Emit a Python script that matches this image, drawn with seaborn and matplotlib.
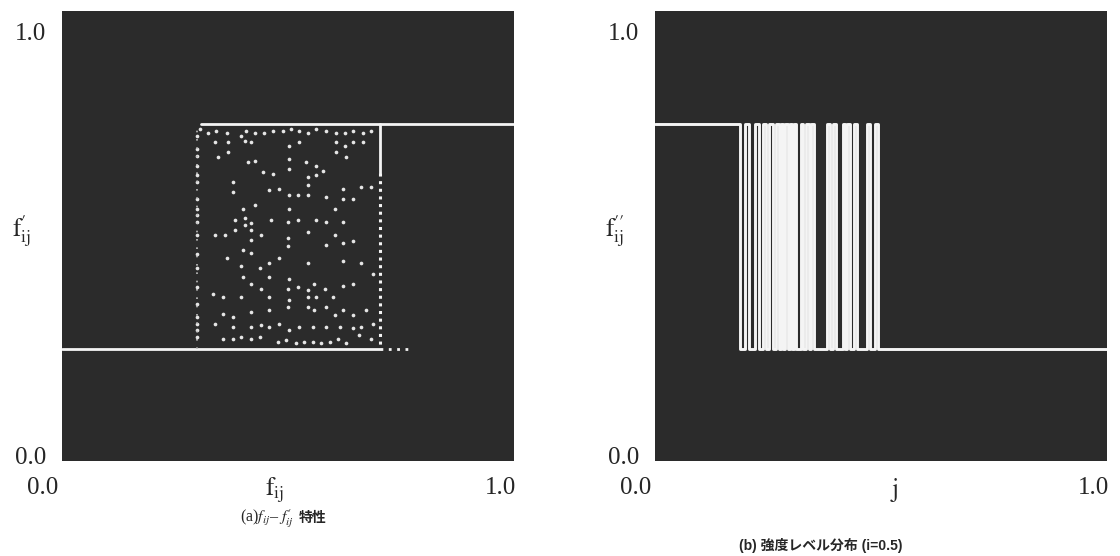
import numpy as np
import pandas as pd
import matplotlib
matplotlib.use("Agg")
import matplotlib.pyplot as plt
import seaborn as sns

sns.set_style("white")
plt.rcParams["font.family"] = ["Liberation Serif", "Noto Sans CJK JP"]
plt.rcParams["mathtext.fontset"] = "stix"

# levels of the characteristic
low_level = 0.25
high_level = 0.75

# (a) f_ij - f'_ij characteristic
a_low_x = [0.0, 0.703]          # solid lower line
a_high_x = [0.307, 1.0]         # solid upper line
a_step_x = 0.703                # vertical jump
a_step_solid_y = [0.75, 0.64]   # solid part of the jump
a_step_dot_y = [0.64, 0.25]     # dotted part of the jump
a_tail_x = [0.703, 0.777]       # dotted tail on the lower level
a_edge_x = 0.299                # dotted left edge of the band

# scattered points inside the band
dot_x = [0.305, 0.323, 0.341, 0.364, 0.397, 0.408, 0.426, 0.448, 0.466, 0.489, 0.507, 0.525, 0.544, 0.562, 0.584, 0.606, 0.625, 0.643, 0.665, 0.684,
         0.338, 0.367, 0.404, 0.419, 0.503, 0.525, 0.606, 0.625, 0.643, 0.665,
         0.345, 0.367, 0.411, 0.426, 0.503, 0.503, 0.540, 0.562, 0.562, 0.606, 0.628,
         0.378, 0.444, 0.466, 0.544, 0.544, 0.577, 0.621, 0.662, 0.684,
         0.378, 0.459, 0.481, 0.503, 0.522, 0.544, 0.584, 0.603, 0.621, 0.643, 0.400, 0.426, 0.503,
         0.382, 0.404, 0.404, 0.419, 0.463, 0.500, 0.522, 0.562, 0.584, 0.621, 0.382, 0.419,
         0.338, 0.360, 0.419, 0.441, 0.500, 0.500, 0.544, 0.584, 0.603, 0.621, 0.643, 0.400, 0.419,
         0.364, 0.397, 0.437, 0.459, 0.481, 0.544, 0.621, 0.662, 0.687, 0.400, 0.459, 0.503,
         0.419, 0.441, 0.500, 0.522, 0.544, 0.558, 0.581, 0.621, 0.643, 0.334, 0.356, 0.397, 0.459, 0.503, 0.544, 0.562, 0.599,
         0.356, 0.378, 0.419, 0.459, 0.500, 0.544, 0.558, 0.584, 0.603, 0.621, 0.643, 0.673,
         0.338, 0.378, 0.419, 0.441, 0.459, 0.481, 0.503, 0.525, 0.555, 0.584, 0.614, 0.643, 0.662, 0.687,
         0.356, 0.378, 0.397, 0.419, 0.437, 0.478, 0.496, 0.518, 0.536, 0.555, 0.573, 0.592, 0.610, 0.628, 0.658, 0.684]
dot_y = [0.737, 0.730, 0.733, 0.730, 0.722, 0.733, 0.730, 0.730, 0.733, 0.733, 0.737, 0.733, 0.730, 0.737, 0.733, 0.730, 0.730, 0.733, 0.730, 0.733,
         0.708, 0.708, 0.711, 0.708, 0.700, 0.708, 0.708, 0.700, 0.708, 0.708,
         0.675, 0.686, 0.664, 0.667, 0.671, 0.649, 0.664, 0.656, 0.635, 0.686, 0.675,
         0.620, 0.642, 0.638, 0.631, 0.613, 0.645, 0.605, 0.609, 0.609,
         0.598, 0.602, 0.605, 0.591, 0.591, 0.591, 0.587, 0.561, 0.583, 0.583, 0.561, 0.569, 0.561,
         0.536, 0.539, 0.525, 0.529, 0.536, 0.532, 0.536, 0.536, 0.532, 0.532, 0.514, 0.514,
         0.503, 0.503, 0.492, 0.503, 0.496, 0.477, 0.510, 0.481, 0.503, 0.485, 0.488, 0.470, 0.463,
         0.452, 0.434, 0.430, 0.441, 0.452, 0.441, 0.444, 0.441, 0.415, 0.408, 0.408, 0.404,
         0.393, 0.382, 0.382, 0.386, 0.379, 0.393, 0.382, 0.390, 0.393, 0.371, 0.364, 0.364, 0.364, 0.357, 0.364, 0.364, 0.364,
         0.327, 0.320, 0.331, 0.335, 0.342, 0.342, 0.335, 0.342, 0.324, 0.335, 0.324, 0.335,
         0.305, 0.298, 0.298, 0.302, 0.298, 0.305, 0.291, 0.298, 0.298, 0.298, 0.298, 0.295, 0.298, 0.305,
         0.272, 0.272, 0.276, 0.272, 0.276, 0.265, 0.268, 0.262, 0.265, 0.265, 0.262, 0.265, 0.272, 0.262, 0.280, 0.272]
edge_dot_y = [0.722, 0.693, 0.678, 0.656, 0.635, 0.620, 0.583, 0.561, 0.547, 0.532, 0.503,
              0.459, 0.430, 0.386, 0.349, 0.320, 0.305, 0.291, 0.276]

# (b) intensity level distribution (i=0.5): switching points of the pulse train
b_first_drop = 0.188
b_pulses = [(0.200, 0.208), (0.222, 0.230), (0.238, 0.246), (0.252, 0.262),
            (0.268, 0.274), (0.278, 0.284), (0.288, 0.294), (0.298, 0.304),
            (0.308, 0.313), (0.322, 0.328), (0.334, 0.340), (0.346, 0.352),
            (0.380, 0.388), (0.393, 0.400), (0.415, 0.421), (0.425, 0.431),
            (0.440, 0.447), (0.468, 0.475), (0.486, 0.494)]

panel_bg = "#2b2b2b"
line_c = "#f4f4f4"
lw = 2.0

fig = plt.figure(figsize=(11.2, 5.56), dpi=100)
ax_a = fig.add_axes([62 / 1120, 1 - 461 / 556, 452 / 1120, 450 / 556])
ax_b = fig.add_axes([655 / 1120, 1 - 461 / 556, 452 / 1120, 450 / 556])

for ax in (ax_a, ax_b):
    ax.set_facecolor(panel_bg)
    ax.set_xlim(0, 1)
    ax.set_ylim(0, 1)
    ax.set_xticks([])
    ax.set_yticks([])
    for sp in ax.spines.values():
        sp.set_visible(False)

# ---- panel (a)
line_kw = dict(color=line_c, estimator=None, sort=False, legend=False)
sns.lineplot(x=a_low_x, y=[low_level] * 2, ax=ax_a, lw=lw, **line_kw)
sns.lineplot(x=a_high_x, y=[high_level] * 2, ax=ax_a, lw=lw, **line_kw)
sns.lineplot(x=[a_step_x] * 2, y=a_step_solid_y, ax=ax_a, lw=lw, **line_kw)
sns.lineplot(x=[a_step_x] * 2, y=a_step_dot_y, ax=ax_a, lw=2.2, ls=(0, (1, 1.5)), **line_kw)
sns.lineplot(x=a_tail_x, y=[low_level] * 2, ax=ax_a, lw=2.0, ls=(0, (1, 2)), **line_kw)
sns.lineplot(x=[a_edge_x] * 2, y=[low_level, high_level], ax=ax_a, lw=1.2, ls=(0, (1, 4)),
             color="#bdbdbd", estimator=None, sort=False, legend=False)
sns.scatterplot(x=[a_edge_x] * len(edge_dot_y), y=edge_dot_y, ax=ax_a, s=7,
                color="#e6e6e6", linewidth=0, legend=False)
sns.scatterplot(x=dot_x, y=dot_y, ax=ax_a, s=7, color="#e6e6e6", linewidth=0, legend=False)

# ---- panel (b): step line built from the switching points
b_x = [0.0, b_first_drop]
b_y = [high_level, low_level]
for up, down in b_pulses:
    b_x += [up, down]
    b_y += [high_level, low_level]
b_x.append(1.0)
b_y.append(low_level)
df_b = pd.DataFrame({"j": b_x, "f": b_y})
sns.lineplot(data=df_b, x="j", y="f", ax=ax_b, lw=2.1, drawstyle="steps-post", **line_kw)

# ---- tick labels and axis labels
tick_fs = 18
for ax, ylab, xlab, xlab_pos in (
    (ax_a, r"$\mathrm{f}_{\mathrm{ij}}^{\prime}$", r"$\mathrm{f}_{\mathrm{ij}}$", 0.47),
    (ax_b, r"$\mathrm{f}_{\mathrm{ij}}^{\prime\prime}$", r"$\mathrm{j}$", 0.53),
):
    ax.text(-0.035, 0.95, "1.0", transform=ax.transAxes, ha="right", va="center", fontsize=tick_fs)
    ax.text(-0.035, 0.007, "0.0", transform=ax.transAxes, ha="right", va="center", fontsize=tick_fs)
    ax.text(-0.042, -0.06, "0.0", transform=ax.transAxes, ha="center", va="center", fontsize=tick_fs)
    ax.text(0.971, -0.06, "1.0", transform=ax.transAxes, ha="center", va="center", fontsize=tick_fs)
    ax.text(xlab_pos, -0.065, xlab, transform=ax.transAxes, ha="center", va="center", fontsize=18)
    ax.text(-0.09, 0.51, ylab, transform=ax.transAxes, ha="center", va="center", fontsize=18)

# captions: math part and Japanese part as separate texts so the CJK font is used
fig.text(0.262, 0.068, r"(a)$f_{ij}$– $f_{ij}^{\prime}$", ha="right", va="center", fontsize=11.5)
fig.text(0.267, 0.068, "特性", ha="left", va="center", fontsize=10,
         family=["Noto Sans CJK JP"], weight="bold")
fig.text(0.733, 0.019, "(b) 強度レベル分布 (i=0.5)", ha="center", va="center", fontsize=10,
         family=["Liberation Sans", "Noto Sans CJK JP"], weight="bold")

fig.savefig("out.png", dpi=100, facecolor="white")
